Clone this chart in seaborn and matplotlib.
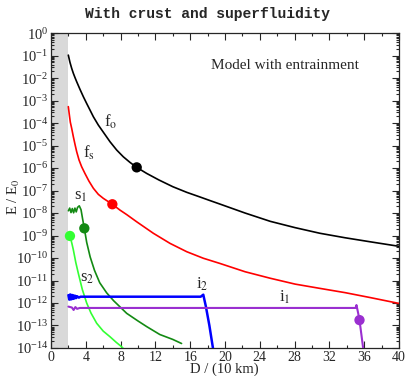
import numpy as np
import pandas as pd
import matplotlib
matplotlib.use('Agg')
import matplotlib.pyplot as plt
import matplotlib.ticker as mticker
import seaborn as sns

# values, stored as log10(E/E0) against D in units of 10 km
fo_D = [1.99, 2.18, 2.38, 2.57, 2.76, 2.95, 3.33, 3.72, 4.10, 4.48, 4.87, 5.44, 6.02,
        6.78, 7.55, 8.31, 9.08, 9.85, 11.0, 12.4, 14.0, 15.6, 17.0, 18.3, 19.4, 22.3,
        25.2, 28.05, 30.9, 33.8, 36.7, 40.0]
fo_logE = [-0.98, -1.30, -1.57, -1.79, -1.98, -2.16, -2.50, -2.83, -3.13, -3.42, -3.72,
           -4.09, -4.41, -4.83, -5.20, -5.50, -5.75, -5.97, -6.24, -6.53, -6.83, -7.08,
           -7.27, -7.45, -7.6, -8.0, -8.37, -8.65, -8.9, -9.1, -9.28, -9.48]

fs_D = [1.99, 2.11, 2.22, 2.38, 2.57, 2.76, 2.95, 3.22, 3.52, 3.90, 4.36, 4.87, 5.44,
        6.02, 7.05, 7.93, 8.7, 9.85, 11.76, 13.68, 15.6, 17.5, 19.4, 22.3, 25.2, 28.05,
        30.9, 33.8, 36.7, 40.0]
fs_logE = [-3.27, -3.64, -3.96, -4.24, -4.61, -4.95, -5.27, -5.64, -5.94, -6.24, -6.58,
           -6.9, -7.17, -7.35, -7.61, -7.87, -8.07, -8.39, -8.9, -9.35, -9.72, -10.01,
           -10.24, -10.61, -10.9, -11.16, -11.35, -11.54, -11.76, -12.02]

s1_D = [2.0, 2.15, 2.3, 2.45, 2.6, 2.75, 2.9, 3.05, 3.25, 3.45, 3.65, 3.83, 4.1, 4.5,
        5.0, 5.6, 6.4, 7.2, 8.7, 10.0, 11.0, 12.5, 14.0, 15.0]
s1_logE = [-7.9, -7.78, -7.98, -7.8, -7.99, -7.78, -7.95, -7.75, -7.68, -7.85, -8.3,
           -8.68, -9.3, -9.95, -10.55, -11.1, -11.55, -11.9, -12.46, -12.8, -13.05,
           -13.4, -13.62, -13.8]

s2_D = [2.18, 2.4, 2.57, 2.85, 3.14, 3.6, 4.1, 4.6, 5.25, 6.0, 6.78, 7.5, 8.1, 8.5]
s2_logE = [-9.02, -9.35, -9.64, -10.2, -10.68, -11.4, -12.0, -12.45, -12.9, -13.25,
           -13.5, -13.75, -13.94, -14.1]

i2_D = [2.0, 2.1, 2.2, 2.3, 2.4, 2.5, 2.6, 2.7, 2.8, 2.9, 3.0, 3.2, 3.4, 17.2, 17.5,
        17.8, 18.2, 18.65]
i2_logE = [-11.65, -11.85, -11.62, -11.84, -11.64, -11.82, -11.66, -11.8, -11.68, -11.78,
           -11.7, -11.76, -11.72, -11.72, -11.63, -12.16, -13.0, -14.1]

i1_D = [2.0, 2.4, 2.6, 2.8, 3.0, 3.3, 35.0, 35.1, 35.3, 35.45, 35.8, 35.9]
i1_logE = [-12.16, -12.2, -12.31, -12.18, -12.26, -12.22, -12.22, -12.09, -12.46,
           -12.76, -13.8, -14.1]

# highlighted points
dot_D = [9.85, 7.05, 3.83, 2.18, 35.45]
dot_logE = [-5.97, -7.61, -8.68, -9.02, -12.76]
dot_colors = ['black', 'red', '#138a13', '#33ff33', '#9a2fd0']

sns.set_style('ticks')
plt.rcParams['font.family'] = ['Liberation Serif', 'DejaVu Serif']
plt.rcParams['mathtext.fontset'] = 'stix'

fig = plt.figure(figsize=(4.06, 3.76), dpi=100)
ax = fig.add_axes([0.1256, 0.0745, 0.8574, 0.8375])

ax.axvspan(0, 2, color='#d9d9d9', lw=0, zorder=0)

curves = [
    (fo_D, fo_logE, 'black', 1.2),
    (fs_D, fs_logE, 'red', 1.2),
    (s1_D, s1_logE, '#138a13', 1.2),
    (s2_D, s2_logE, '#33ff33', 1.2),
    (i2_D, i2_logE, '#0000ff', 1.8),
    (i1_D, i1_logE, '#9a2fd0', 1.5),
]
for xs, ls, col, lw in curves:
    df = pd.DataFrame({'D': xs, 'E': 10.0 ** np.array(ls)})
    sns.lineplot(data=df, x='D', y='E', color=col, lw=lw, sort=False,
                 estimator=None, ax=ax, zorder=3)

dots = pd.DataFrame({'D': dot_D, 'E': 10.0 ** np.array(dot_logE), 'c': dot_colors})
sns.scatterplot(data=dots, x='D', y='E', hue='c', palette=dict(zip(dot_colors, dot_colors)),
                s=55, edgecolor='none', legend=False, ax=ax, zorder=4)

ax.set_yscale('log')
ax.set_xlim(0, 40)
ax.set_ylim(1e-14, 1)
ax.xaxis.set_major_locator(mticker.MultipleLocator(4))
ax.xaxis.set_minor_locator(mticker.MultipleLocator(2))
ax.yaxis.set_major_locator(mticker.LogLocator(base=10, numticks=30))
ax.yaxis.set_minor_locator(mticker.LogLocator(base=10, subs=np.arange(2, 10), numticks=30))
ax.yaxis.set_minor_formatter(mticker.NullFormatter())
ax.tick_params(which='both', direction='in', top=True, right=True, width=0.8,
               labelsize=10.5, pad=2)
ax.tick_params(axis='x', labelsize=10)
ax.tick_params(which='major', length=5)
ax.tick_params(which='minor', length=2.5)
for sp in ax.spines.values():
    sp.set_linewidth(0.9)

ax.set_xlabel('D / (10 km)', fontsize=10.5, va='center')
ax.xaxis.set_label_coords(0.497, -0.068)
ax.set_ylabel(r'E / E$_0$', fontsize=10.5, va='center')
ax.yaxis.set_label_coords(-0.106, 0.48)

# curve labels
lab_fs = 12
ax.text(6.84, 10 ** -3.95, r'f$_\mathrm{o}$', fontsize=lab_fs, ha='center', va='center')
ax.text(4.37, 10 ** -5.33, r'f$_\mathrm{s}$', fontsize=lab_fs, ha='center', va='center')
ax.text(3.45, 10 ** -7.24, r's$_1$', fontsize=lab_fs, ha='center', va='center')
ax.text(4.2, 10 ** -10.9, r's$_2$', fontsize=lab_fs, ha='center', va='center')
ax.text(17.35, 10 ** -11.16, r'i$_2$', fontsize=lab_fs, ha='center', va='center')
ax.text(26.9, 10 ** -11.76, r'i$_1$', fontsize=lab_fs, ha='center', va='center')

ax.text(0.672, 0.898, 'Model with entrainment', transform=ax.transAxes,
        fontsize=11, ha='center', va='center')

fig.text(0.512, 0.962, 'With crust and superfluidity', ha='center', va='center',
         fontsize=10.5, fontweight='bold', family=['Liberation Mono', 'DejaVu Sans Mono'])

fig.savefig('out.png', dpi=100)
